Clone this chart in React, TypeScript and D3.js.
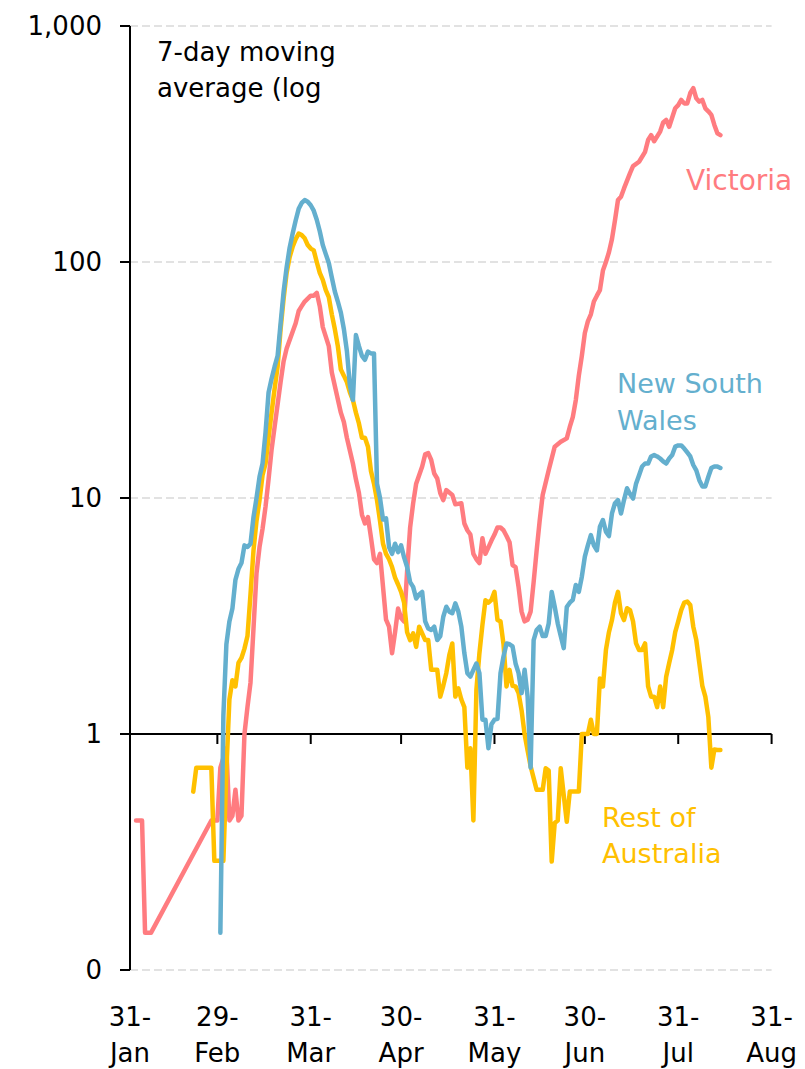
import React from 'react';
import * as d3 from 'd3';

// day offsets counted from 31 Jan 2020, 7-day moving averages
const victoria: [number, number][] = [
  [2, 0.43], [4, 0.43], [5, 0.144], [7, 0.144], [27, 0.43], [29, 0.43], [30, 0.72], [32, 0.87],
  [33, 0.43], [34, 0.45], [35, 0.58], [36, 0.43], [37, 0.45], [38, 1.0], [39, 1.3], [40, 1.65],
  [41, 2.8], [42, 4.8], [43, 6.2], [44, 7.4], [45, 9.2], [46, 12], [47, 16], [48, 20], [50, 31],
  [51, 38], [52, 43], [55, 55], [56, 62], [57, 65], [58, 68], [59, 70], [60, 72], [61, 72],
  [62, 74], [63, 65], [64, 53], [66, 44], [67, 34], [70, 23], [71, 21], [72, 18], [74, 14],
  [75, 12], [76, 10.5], [77, 8.5], [78, 7.8], [79, 8.3], [80, 6.8], [81, 5.5], [82, 5.3],
  [83, 5.8], [85, 3.05], [86, 2.85], [87, 2.2], [88, 2.7], [89, 3.4], [90, 3.1], [91, 3.0],
  [92, 4.9], [93, 7.5], [94, 9.5], [95, 11.5], [97, 13.6], [98, 15.3], [99, 15.5], [100, 14.5],
  [101, 12.7], [102, 12.1], [103, 10.5], [104, 9.8], [105, 10.8], [107, 10.3], [108, 9.4],
  [110, 9.5], [111, 7.8], [112, 7.3], [113, 7.0], [114, 5.8], [115, 5.5], [116, 5.3], [117, 6.75],
  [118, 5.8], [120, 6.6], [121, 7.0], [122, 7.5], [123, 7.5], [124, 7.3], [125, 6.9], [126, 6.5],
  [127, 5.2], [128, 5.1], [129, 4.2], [130, 3.3], [131, 3.0], [132, 3.05], [133, 3.3], [134, 4.4],
  [135, 6.0], [136, 8.0], [137, 10.3], [139, 13.1], [141, 16.5], [143, 17.3], [145, 17.9],
  [146, 20], [147, 22], [148, 26], [149, 33], [150, 40], [151, 50], [152, 56], [153, 60],
  [154, 68], [155, 72], [156, 76], [157, 92], [158, 100], [159, 110], [160, 125], [161, 150],
  [162, 183], [163, 189], [164, 205], [166, 238], [167, 255], [169, 266], [171, 293], [172, 329],
  [173, 345], [174, 325], [176, 357], [177, 390], [178, 400], [179, 374], [181, 448], [182, 462],
  [183, 486], [184, 470], [185, 470], [186, 520], [187, 545], [188, 494], [189, 478], [190, 486],
  [191, 448], [192, 435], [193, 420], [194, 381], [195, 351], [196, 345],
];

const newSouthWales: [number, number][] = [
  [30, 0.144], [31, 1.2], [32, 2.4], [33, 3.0], [34, 3.4], [35, 4.5], [36, 5.0], [37, 5.3],
  [38, 6.3], [39, 6.2], [40, 6.4], [41, 8.3], [42, 10], [43, 12.3], [44, 14], [45, 19], [46, 28],
  [47, 32], [48, 36], [49, 40], [50, 55], [51, 75], [52, 95], [53, 115], [54, 132], [55, 150],
  [56, 168], [57, 178], [58, 183], [59, 180], [60, 174], [61, 165], [62, 151], [63, 135],
  [64, 118], [65, 108], [66, 99], [67, 86], [68, 75], [69, 68], [70, 61], [71, 52], [72, 42],
  [73, 30], [74, 26], [75, 49], [76, 44], [77, 40], [78, 38.5], [79, 41.7], [80, 41], [81, 41],
  [82, 11.5], [83, 10], [84, 8.1], [85, 8.2], [86, 6.2], [87, 5.8], [88, 6.4], [89, 5.9],
  [90, 6.3], [91, 5.6], [92, 5.1], [93, 4.4], [94, 4.2], [95, 3.75], [96, 3.9], [97, 4.0],
  [98, 3.0], [99, 2.8], [100, 2.76], [101, 2.85], [102, 2.5], [103, 2.6], [104, 3.14],
  [105, 3.46], [106, 3.3], [107, 3.25], [108, 3.58], [109, 3.3], [110, 2.85], [111, 2.2],
  [112, 1.81], [113, 1.75], [114, 1.87], [115, 1.99], [116, 1.81], [117, 1.15], [118, 1.15],
  [119, 0.87], [120, 1.1], [121, 1.15], [122, 1.16], [123, 1.81], [124, 2.13], [125, 2.42],
  [126, 2.4], [127, 2.35], [128, 1.99], [129, 1.81], [130, 1.49], [131, 1.87], [132, 1.44],
  [133, 0.72], [134, 2.5], [135, 2.76], [136, 2.85], [137, 2.6], [138, 2.6], [139, 2.94],
  [140, 4.0], [141, 3.46], [142, 2.94], [143, 2.6], [144, 2.31], [145, 3.45], [146, 3.6],
  [147, 3.7], [148, 4.28], [149, 4.0], [150, 4.64], [151, 5.64], [152, 6.3], [153, 6.96],
  [154, 6.3], [155, 6.0], [156, 7.56], [157, 8.07], [158, 7.2], [159, 6.9], [160, 8.6],
  [161, 9.5], [162, 9.8], [163, 8.6], [164, 9.8], [165, 11.0], [166, 10.4], [167, 9.95],
  [168, 11.5], [169, 12.5], [170, 13.6], [171, 14], [172, 14], [173, 15], [174, 15.2], [175, 15],
  [176, 14.7], [177, 14.3], [178, 14], [179, 14.7], [180, 15.2], [181, 16.5], [182, 16.7],
  [183, 16.7], [184, 16.2], [185, 15.6], [186, 15], [187, 13.8], [188, 13.1], [189, 11.9],
  [190, 11.2], [191, 11.2], [192, 12.3], [193, 13.4], [194, 13.6], [195, 13.6], [196, 13.4],
];

const restOfAustralia: [number, number][] = [
  [21, 0.57], [22, 0.72], [27, 0.72], [28, 0.29], [31, 0.29], [32, 0.7], [33, 1.4], [34, 1.69],
  [35, 1.59], [36, 2.0], [37, 2.1], [38, 2.3], [39, 2.6], [40, 3.9], [41, 6.0], [42, 8.0],
  [43, 9.8], [44, 12.5], [45, 14], [46, 18], [47, 23], [48, 29], [49, 36], [50, 52], [51, 70],
  [52, 90], [53, 105], [54, 116], [55, 125], [56, 132], [57, 130], [58, 126], [59, 118],
  [60, 114], [61, 112], [62, 100], [63, 90], [64, 84], [65, 76], [66, 71], [67, 60], [68, 52],
  [69, 44], [70, 35], [71, 33], [72, 31], [73, 28], [74, 26], [75, 23], [76, 20.7], [77, 18],
  [78, 18], [79, 16.5], [80, 13], [81, 11.5], [82, 9.8], [83, 8.0], [84, 6.4], [85, 5.8],
  [86, 5.5], [87, 5.1], [88, 4.6], [89, 4.3], [90, 4.0], [91, 3.6], [92, 2.7], [93, 2.5],
  [94, 2.67], [95, 2.34], [96, 2.85], [97, 2.67], [98, 2.5], [99, 2.5], [100, 1.87], [101, 1.87],
  [102, 1.87], [103, 1.44], [104, 1.6], [105, 1.81], [106, 2.16], [107, 2.42], [108, 1.44],
  [109, 1.56], [110, 1.4], [111, 1.3], [112, 0.72], [113, 0.87], [114, 0.43], [115, 1.54],
  [116, 2.2], [117, 2.9], [118, 3.69], [119, 3.6], [120, 3.7], [121, 4.0], [122, 3.04],
  [123, 3.0], [124, 2.4], [125, 1.59], [126, 1.87], [127, 1.6], [128, 1.59], [129, 1.49],
  [130, 1.26], [131, 1.0], [132, 0.85], [133, 0.73], [134, 0.65], [135, 0.58], [136, 0.58],
  [137, 0.58], [138, 0.716], [139, 0.7], [140, 0.288], [141, 0.42], [142, 0.43], [143, 0.716],
  [144, 0.55], [145, 0.425], [146, 0.57], [147, 0.57], [148, 0.57], [149, 0.57], [150, 1.0],
  [151, 1.0], [152, 1.0], [153, 1.15], [154, 1.0], [155, 1.0], [156, 1.72], [157, 1.59],
  [158, 2.27], [159, 2.7], [160, 3.04], [161, 3.6], [162, 4.0], [163, 3.25], [164, 3.04],
  [165, 3.41], [166, 3.35], [167, 3.0], [168, 2.42], [169, 2.27], [170, 2.27], [171, 2.42],
  [172, 1.59], [173, 1.44], [174, 1.44], [175, 1.3], [176, 1.59], [177, 1.3], [178, 1.75],
  [179, 2.0], [180, 2.27], [181, 2.7], [182, 3.0], [183, 3.35], [184, 3.6], [185, 3.64],
  [186, 3.52], [187, 2.85], [188, 2.5], [189, 2.0], [190, 1.6], [191, 1.44], [192, 1.18],
  [193, 0.72], [194, 0.86], [195, 0.855], [196, 0.855],
];

const xTickDates = ['2020-01-31', '2020-02-29', '2020-03-31', '2020-04-30', '2020-05-31', '2020-06-30', '2020-07-31', '2020-08-31'];
const xTickDay = ['31-', '29-', '31-', '30-', '31-', '30-', '31-', '31-'];
const xTickMonth = ['Jan', 'Feb', 'Mar', 'Apr', 'May', 'Jun', 'Jul', 'Aug'];
const yTicks = [0.1, 1, 10, 100, 1000];
const yTickLabels = ['0', '1', '10', '100', '1,000'];

const W = 805;
const H = 1069;
const FONT = '"DejaVu Sans", sans-serif';
const VIC = '#FF7C80';
const NSW = '#64AFCE';
const ROA = '#FFC000';

const parse = d3.utcParse('%Y-%m-%d');
const start = parse(xTickDates[0]) as Date;
const toDate = (d: number) => d3.utcDay.offset(start, d);

export default function App() {
  const x = d3.scaleUtc()
    .domain([start, parse(xTickDates[xTickDates.length - 1]) as Date])
    .range([130, 771.6]);
  const y = d3.scaleLog().domain([0.1, 1000]).range([970, 26]);

  const line = d3.line<[number, number]>()
    .x(p => x(toDate(p[0])))
    .y(p => y(p[1]));

  const series = [
    { data: victoria, color: VIC },
    { data: restOfAustralia, color: ROA },
    { data: newSouthWales, color: NSW },
  ];

  return (
    <div style={{ position: 'absolute', left: 0, top: 0 }}>
      <svg width={W} height={H} style={{ display: 'block', background: '#fff' }} fontFamily={FONT}>
        {/* gridlines */}
        {yTicks.filter(t => t !== 1).map(t => (
          <line key={t} x1={130} x2={771.6} y1={y(t)} y2={y(t)}
            stroke="#D9D9D9" strokeWidth={1.5} strokeDasharray="8,4" />
        ))}
        {/* y axis */}
        <line x1={130} x2={130} y1={y(1000)} y2={y(0.1)} stroke="#000" strokeWidth={2} />
        {yTicks.map((t, i) => (
          <g key={t}>
            <line x1={120} x2={130} y1={y(t)} y2={y(t)} stroke="#000" strokeWidth={2} />
            <text x={102} y={y(t)} dy="0.36em" textAnchor="end" fontSize={26} fill="#000">{yTickLabels[i]}</text>
          </g>
        ))}
        {/* x axis at 1 */}
        <line x1={120} x2={771.6} y1={y(1)} y2={y(1)} stroke="#000" strokeWidth={2} />
        {xTickDates.map((d, i) => {
          const xx = x(parse(d) as Date);
          return (
            <g key={d}>
              <line x1={xx} x2={xx} y1={y(1)} y2={y(1) + 10} stroke="#000" strokeWidth={2} />
              <text x={xx} y={1026} textAnchor="middle" fontSize={26} fill="#000">{xTickDay[i]}</text>
              <text x={xx} y={1062} textAnchor="middle" fontSize={26} fill="#000">{xTickMonth[i]}</text>
            </g>
          );
        })}
        {/* series */}
        {series.map(s => (
          <path key={s.color} d={line(s.data) ?? ''} fill="none" stroke={s.color}
            strokeWidth={4.5} strokeLinejoin="round" strokeLinecap="round" />
        ))}
        {/* labels */}
        <text x={157} y={61} fontSize={26} fill="#000">7-day moving</text>
        <text x={157} y={97} fontSize={26} fill="#000">average (log</text>
        <text x={686} y={190} fontSize={28} fill={VIC}>Victoria</text>
        <text x={617} y={393} fontSize={27} fill={NSW}>New South</text>
        <text x={617} y={430} fontSize={27} fill={NSW}>Wales</text>
        <text x={602} y={827} fontSize={27} fill={ROA}>Rest of</text>
        <text x={602} y={863} fontSize={27} fill={ROA}>Australia</text>
      </svg>
    </div>
  );
}
